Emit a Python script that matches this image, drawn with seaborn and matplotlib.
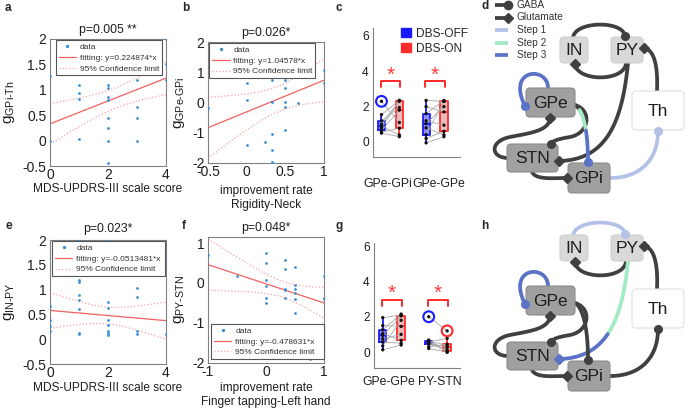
import numpy as np
import pandas as pd
import matplotlib
matplotlib.use("Agg")
import matplotlib.pyplot as plt
from matplotlib.lines import Line2D
from matplotlib.patches import Patch, FancyBboxPatch
from matplotlib.transforms import ScaledTranslation
import seaborn as sns

# ---------------- data: scatter panels a, b, e, f ----------------
a_x = [0, 0, 1, 1, 1, 1, 2, 2, 2, 2, 2, 2, 2, 2, 3, 3, 3, 3, 4, 4, 4]
a_y = [1.27, 0.0, 1.1, 0.93, 0.81, 0.03, 1.1, 1.03, 0.86, 0.8, 0.45, 0.24, 0.0, -0.45,
       1.2, 0.67, 0.44, 0.0, 2.0, 1.5, 1.2]
b_x = [-0.5, 0, 0, 0, 0.24, 0.33, 0.33, 0.33, 0.33, 0.33, 0.5, 0.5, 0.5, 0.5, 0.5, 0.67, 1, 1]
b_y = [-0.19, 0.63, 0.08, -1.4, -1.32, 0.74, 0.02, -1.05, -1.56, -1.97, 0.74, 0.47, 0.03,
       -0.14, -0.9, -0.03, 1.07, 0.63]
e_x = [0, 0, 0, 0, 1, 1, 1, 1, 1, 1, 1, 1, 2, 2, 2, 2, 2, 2, 2, 2, 3, 3, 3, 3, 3, 4, 4]
e_y = [0.67, 0.39, 0.27, 0.17, 2.0, 1.2, 1.15, 0.9, 0.8, 0.6, 0.13, 0.1, 2.0, 0.75, 0.62,
       0.39, 0.29, 0.17, 0.12, 0.09, 1.29, 1.03, 0.85, 0.17, 0.1, 1.58, 0.1]
f_x = [-1, -0.5, 0, 0, 0, 0, 0, 0, 0.33, 0.33, 0.33, 0.33, 0.33, 0.5, 0.5, 0.5, 0.5, 0.5,
       0.5, 0.75, 1, 1, 1]
f_y = [0.71, 0.18, 0.74, 0.51, 0.07, -0.07, -0.37, -0.51, 0.57, 0.35, -0.15, -0.18, -0.37,
       0.39, -0.04, -0.15, -0.25, -0.41, -0.74, -1.9, 0.18, -0.37, -0.41]

# fitted lines (intercept, slope) and 95% band (centre x, half width at centre, spread)
a_fit, a_ci = (0.33, 0.224874), (2.3, 0.2, 0.0227)
b_fit, b_ci = (-0.31, 1.04578), (0.42, 0.42, 1.0)
e_fit, e_ci = (0.58, -0.0513481), (1.95, 0.17, 0.027)
f_fit, f_ci = (-0.02, -0.478631), (0.3, 0.2, 0.22)

# ---------------- data: paired box panels c, g ----------------
c_conns = ["GPe-GPi", "GPe-GPe"]
c_off = [[2.3, 1.55, 1.2, 1.0, 0.9, 0.8, 0.65, 0.55, 0.5],
         [2.35, 2.0, 1.6, 1.2, 1.04, 0.8, 0.42, 0.2, -0.05]]
c_on = [[1.1, 2.35, 1.95, 2.35, 0.4, 2.3, 1.8, 0.78, 0.3],
        [2.3, 1.7, 2.35, 0.95, 2.0, 0.4, 2.3, 0.6, 0.3]]
g_conns = ["GPe-GPe", "PY-STN"]
g_off = [[1.95, 1.5, 1.26, 1.05, 0.94, 0.75, 0.57, 0.35, 0.13],
         [2.0, 0.68, 0.63, 0.6, 0.57, 0.5, 0.45, 0.3, 0.2]]
g_on = [[2.1, 1.45, 2.15, 0.66, 2.05, 1.0, 0.5, 1.8, 0.4],
        [1.2, 0.05, 0.38, 0.0, 0.78, 0.28, 0.15, 0.45, 0.0]]
states = ["DBS-OFF", "DBS-ON"]

# ---------------- style ----------------
sns.set_style("white")
plt.rcParams["font.family"] = ["Liberation Sans", "DejaVu Sans"]
plt.rcParams["axes.unicode_minus"] = False
plt.rcParams["mathtext.fontset"] = "custom"
plt.rcParams["mathtext.rm"] = "Liberation Sans"
plt.rcParams["mathtext.it"] = "Liberation Sans:italic"

DOT = "#3b8fd6"
RED = "#f26060"
RED_CI = "#f4a3a3"
GREY = "#808080"
TXT = "#1e1e1e"
FS = 8.6

W, H = 685, 409
fig = plt.figure(figsize=(W / 100, H / 100), dpi=100)


def px_axes(x0, x1, y0, y1):
    return fig.add_axes([x0 / W, 1 - y1 / H, (x1 - x0) / W, (y1 - y0) / H])


def scatter_panel(ax, x, y, fit, ci, xlim, ylim, xticks, yticks, title, tpad,
                  xlabel, xlab_y, ylabel, ylab_x, leg_box, leg_loc):
    sns.scatterplot(x=x, y=y, ax=ax, color=DOT, s=4, linewidth=0, zorder=3)
    xs = np.linspace(xlim[0], xlim[1], 200)
    yf = fit[0] + fit[1] * xs
    half = np.sqrt(ci[1] ** 2 + ci[2] * (xs - ci[0]) ** 2)
    ax.plot(xs, yf, color=RED, lw=0.9)
    ax.plot(xs, yf + half, color=RED_CI, lw=0.9, ls=":")
    ax.plot(xs, yf - half, color=RED_CI, lw=0.9, ls=":")
    ax.set_xlim(xlim)
    ax.set_ylim(ylim)
    ax.set_xticks(xticks)
    ax.set_yticks(yticks)
    ax.set_xticklabels([f"{t:g}" for t in xticks])
    ax.set_yticklabels([f"{t:g}" for t in yticks])
    ax.tick_params(labelsize=10, color=GREY, labelcolor=TXT, direction="in", length=2, pad=2.5)
    ax.tick_params(axis="x", pad=1.2)
    for s in ax.spines.values():
        s.set_color(GREY)
        s.set_linewidth(0.8)
    ax.set_title(title, fontsize=8.8, color=TXT, pad=tpad)
    ax.set_xlabel(xlabel, fontsize=FS, color=TXT, linespacing=1.25)
    ax.xaxis.set_label_coords(0.5, xlab_y)
    ax.set_ylabel(ylabel, fontsize=11, color=TXT)
    ax.yaxis.set_label_coords(ylab_x, 0.5)
    handles = [Line2D([], [], marker="o", ms=1.4, ls="none", color=DOT),
               Line2D([], [], color=RED, lw=0.9),
               Line2D([], [], color=RED_CI, lw=0.9, ls=":")]
    labels = ["data", f"fitting: y={fit[1]:g}*x", "95% Confidence limit"]
    leg = ax.legend(handles, labels, loc=leg_loc, bbox_to_anchor=leg_box, mode="expand",
                    fontsize=6, frameon=True, fancybox=False, framealpha=1,
                    edgecolor="#555555", borderpad=0.35, labelspacing=0.35,
                    handlelength=2.1, handletextpad=0.45, borderaxespad=0)
    leg.get_frame().set_linewidth(0.8)
    for t in leg.get_texts():
        t.set_color("#333333")


def box_panel(ax, conns, off, on, xlim, ylim, tick_pad, br, shifts):
    rows = []
    for i, c in enumerate(conns):
        for v in off[i]:
            rows.append((c, states[0], v))
        for v in on[i]:
            rows.append((c, states[1], v))
    df = pd.DataFrame(rows, columns=["conn", "state", "value"])
    kw = dict(data=df, x="conn", y="value", hue="state", order=conns, hue_order=states,
              showfliers=False, showcaps=False, gap=0.6, width=0.8, legend=False, ax=ax)
    sns.boxplot(fill=True, palette=["#8080ff", "#f4b4b4"], linewidth=0, **kw)
    sns.boxplot(fill=False, palette=["#1a1aff", "#ff2a2a"], linewidth=1.3, **kw)
    for i in range(len(conns)):
        for o, n in zip(off[i], on[i]):
            ax.plot([i - 0.2, i + 0.2], [o, n], color="#a8a8a8", lw=0.6, zorder=2.5)
    sns.stripplot(data=df, x="conn", y="value", hue="state", order=conns, hue_order=states,
                  dodge=True, jitter=False, palette=["#111111", "#111111"], size=2.4,
                  legend=False, ax=ax, zorder=3)
    for i in range(len(conns)):
        for dx, vals, col in [(-0.2, off[i], "#1a1aff"), (0.2, on[i], "#ff2a2a")]:
            v = np.asarray(vals)
            q1, q3 = np.percentile(v, [25, 75])
            out = v[(v > q3 + 1.5 * (q3 - q1)) | (v < q1 - 1.5 * (q3 - q1))]
            ax.scatter(np.full(len(out), i + dx), out, s=60, facecolors="none",
                       edgecolors=col, linewidths=1.5, zorder=4)
        yb, yt, ys = br
        ax.plot([i - 0.22, i - 0.22, i + 0.22, i + 0.22], [yb, yt, yt, yb],
                color="#ff2a2a", lw=1.4, zorder=4)
        ax.text(i, ys, "*", color="#ff3a3a", fontsize=15, ha="center", va="center")
    ax.set_xlim(xlim)
    ax.set_ylim(ylim)
    ax.set_yticks([0, 2, 4, 6])
    ax.set_xlabel("")
    ax.set_ylabel("")
    ax.tick_params(labelsize=FS, color=GREY, labelcolor=TXT, direction="in", length=2.5)
    ax.tick_params(axis="x", pad=tick_pad, labelsize=8.8)
    ax.tick_params(axis="y", pad=3)
    for lbl, dx in zip(ax.get_xticklabels(), shifts):
        lbl.set_transform(lbl.get_transform() + ScaledTranslation(dx / 100, 0, fig.dpi_scale_trans))
    sns.despine(ax=ax)
    for s in ["left", "bottom"]:
        ax.spines[s].set_color(GREY)
        ax.spines[s].set_linewidth(0.8)


ax_a = px_axes(50, 166, 39, 166)
scatter_panel(ax_a, a_x, a_y, a_fit, a_ci, (0, 4), (-0.5, 2), [0, 2, 4],
              [-0.5, 0, 0.5, 1, 1.5, 2], "p=0.005 **", 4, "MDS-UPDRS-III scale score", -0.135,
              r"$\mathrm{g}_{\mathrm{GPi\text{-}Th}}$", -0.284, (0.05, 0.99, 0.915, 0.0), "upper left")

ax_b = px_axes(208, 324, 42, 163)
scatter_panel(ax_b, b_x, b_y, b_fit, b_ci, (-0.5, 1), (-2, 2), [-0.5, 0, 0.5, 1],
              [-2, -1, 0, 1, 2], "p=0.026*", 4, "improvement rate\nRigidity-Neck", -0.18,
              r"$\mathrm{g}_{\mathrm{GPe\text{-}GPi}}$", -0.18, (0.01, 0.99, 0.91, 0.0), "upper left")

ax_e = px_axes(50, 166, 240, 364)
scatter_panel(ax_e, e_x, e_y, e_fit, e_ci, (0, 4), (-0.5, 2), [0, 2, 4],
              [-0.5, 0, 0.5, 1, 1.5, 2], "p=0.023*", 6, "MDS-UPDRS-III scale score", -0.145,
              r"$\mathrm{g}_{\mathrm{IN\text{-}PY}}$", -0.284, (0.017, 0.99, 0.973, 0.0), "upper left")

ax_f = px_axes(208, 324, 237, 363)
scatter_panel(ax_f, f_x, f_y, f_fit, f_ci, (-1, 1), (-2, 1.15), [-1, 0, 1],
              [-2, -1, 0, 1], "p=0.048*", 4, "improvement rate\nFinger tapping-Left hand", -0.15,
              r"$\mathrm{g}_{\mathrm{PY\text{-}STN}}$", -0.18, (0.026, 0.03, 0.97, 0.0), "lower left")

ax_c = px_axes(373, 460, 28, 157)
box_panel(ax_c, c_conns, c_off, c_on, (-0.39, 1.56), (-0.85, 6.45), 15, (3.09, 3.47, 3.8),
          (-2.5, 3.5))
ax_c.legend([Patch(color="#1a1aff"), Patch(color="#ff2a2a")], states, loc="upper left",
            bbox_to_anchor=(0.27, 1.04), frameon=False, fontsize=FS, handlelength=0.8,
            handleheight=0.8, handletextpad=0.4, labelspacing=0.25, borderaxespad=0)

ax_g = px_axes(374, 460, 243, 368)
box_panel(ax_g, g_conns, g_off, g_on, (-0.39, 1.48), (-0.9, 6.17), 6, (2.58, 2.96, 3.3),
          (-3.5, 1.5))

# ---------------- circuit diagrams d, h ----------------
DARK = "#404040"
STEP1 = "#b3c1e8"
STEP2 = "#a3ebc5"
STEP3 = "#5a73c6"

nodes = {  # name: (x0, y0, x1, y1, face, edge)
    "IN": (560, 37, 588, 63, "#d9d9d9", "#cfcfcf"),
    "PY": (611, 37, 643, 63, "#d9d9d9", "#cfcfcf"),
    "GPe": (526, 88, 575, 117, "#a0a0a0", "#8c8c8c"),
    "Th": (632, 91, 684, 130, "#ffffff", "#e0e0e0"),
    "STN": (507, 144, 558, 172, "#a0a0a0", "#8c8c8c"),
    "GPi": (568, 163, 610, 193, "#a0a0a0", "#8c8c8c"),
}
paths = {
    "IN-PY": [(573, 38), (574, 21), (623, 20), (625, 36)],
    "PY-IN": [(626, 63), (625, 82), (577, 82), (575, 64)],
    "PY-STN": [(628, 63), (622, 125), (605, 160), (559, 161)],
    "Th-PY": [(657, 91), (658, 68), (655, 50), (644, 48)],
    "GPi-Th": [(610, 178), (640, 178), (658, 160), (658, 131)],
    "GPe-GPe": [(548, 88), (548, 66), (506, 68), (525, 106)],
    "STN-GPe": [(507, 158), (490, 157), (490, 141), (510, 137), (530, 133), (549, 131), (550, 118)],
    "GPe-STN": [(575, 105), (592, 110), (590, 133), (570, 137), (558, 139), (552, 141), (551, 144)],
    "GPe-GPi": [(575, 105), (583, 110), (588, 130), (588, 162)],
    "STN-GPi": [(532, 172), (536, 180), (552, 178), (567, 178)],
}
heads = {"IN-PY": "o", "PY-IN": "D", "PY-STN": "D", "Th-PY": "D", "GPi-Th": "o",
         "GPe-GPe": "o", "STN-GPe": "D", "GPe-STN": "o", "GPe-GPi": "o", "STN-GPi": "D"}
d_colors = {"GPi-Th": [(0, 1, STEP1)], "GPe-GPe": [(0, 1, STEP3)],
            "GPe-GPi": [(0, 0.2, DARK), (0.2, 0.62, STEP2), (0.62, 1, STEP3)]}
h_colors = {"IN-PY": [(0, 1, STEP1)], "GPe-GPe": [(0, 1, STEP3)],
            "PY-STN": [(0, 0.5, STEP2), (0.5, 1, STEP3)]}


def bez_chain(pts, n=40):
    pts = np.asarray(pts, float)
    out = []
    t = np.linspace(0, 1, n)[:, None]
    for k in range(0, len(pts) - 1, 3):
        p0, p1, p2, p3 = pts[k:k + 4]
        seg = (1 - t) ** 3 * p0 + 3 * (1 - t) ** 2 * t * p1 + 3 * (1 - t) * t ** 2 * p2 + t ** 3 * p3
        out.append(seg if k == 0 else seg[1:])
    return np.vstack(out)


def draw_circuit(ax, dy, colors):
    for name, pts in paths.items():
        P = bez_chain(pts) + np.array([0, dy])
        N = len(P) - 1
        segs = colors.get(name, [(0, 1, DARK)])
        for t0, t1, c in segs:
            i0, i1 = int(round(t0 * N)), int(round(t1 * N))
            ax.plot(P[i0:i1 + 1, 0], P[i0:i1 + 1, 1], color=c, lw=2.7,
                    solid_capstyle="round", zorder=2)
        ax.plot(P[-1, 0], P[-1, 1], marker=heads[name], ms=5.5 if heads[name] == "o" else 5,
                color=segs[-1][2], zorder=6)
    for name, (x0, y0, x1, y1, fc, ec) in nodes.items():
        ax.add_patch(FancyBboxPatch((x0, y0 + dy), x1 - x0, y1 - y0,
                                    boxstyle="round,pad=0,rounding_size=4",
                                    fc=fc, ec=ec, lw=0.8, zorder=4))
        ax.text((x0 + x1) / 2, (y0 + y1) / 2 + dy + 0.5, name, ha="center", va="center",
                fontsize=12.5, color=TXT, zorder=5)


ax_net = fig.add_axes([0, 0, 1, 1])
ax_net.set_xlim(0, W)
ax_net.set_ylim(H, 0)
ax_net.axis("off")
draw_circuit(ax_net, 0, d_colors)
draw_circuit(ax_net, 198, h_colors)

legend_rows = [("GABA", DARK, "o"), ("Glutamate", DARK, "D"), ("Step 1", STEP1, None),
               ("Step 2", STEP2, None), ("Step 3", STEP3, None)]
for k, (lab, col, mk) in enumerate(legend_rows):
    yy = 5 + k * 12.5
    ax_net.plot([495, 508], [yy, yy], color=col, lw=2.7, solid_capstyle="butt")
    if mk:
        ax_net.plot(508, yy, marker=mk, ms=6 if mk == "o" else 5, color=col)
    ax_net.text(517, yy, lab, fontsize=7.3, va="center", ha="left", color="#333333")

# panel letters
for lab, x, y in [("a", 5, 8), ("b", 182, 8), ("c", 335, 8), ("d", 481, 6),
                  ("e", 5, 226), ("f", 182, 226), ("g", 335, 226), ("h", 481, 226)]:
    fig.text(x / W, 1 - y / H, lab, fontsize=8.5, fontweight="bold", va="center", ha="left")

fig.savefig("out.png", dpi=100)
